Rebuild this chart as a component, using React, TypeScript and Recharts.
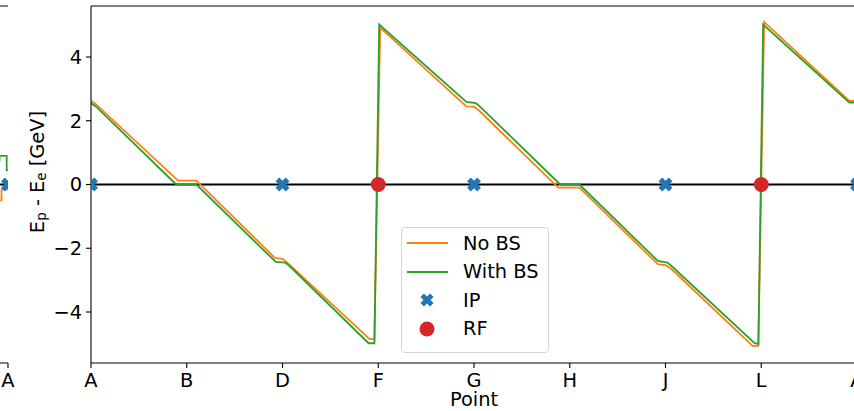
import { ComposedChart, Line, Scatter, XAxis, YAxis, ReferenceLine, Legend, Label } from "recharts";

const FONT = "DejaVu Sans, sans-serif";
const FS = 19.4;
const ORANGE = "#ff7f0e";
const GREEN = "#2ca02c";
const BLUE = "#1f77b4";
const RED = "#d62728";

// x axis: lattice points along the ring
const pointLabels = ["A", "B", "D", "F", "G", "H", "J", "L", "A"];
const pointTicks = [0, 1, 2, 3, 4, 5, 6, 7, 8];
const yTicks = [-4, -2, 0, 2, 4];
const yDomain = [-5.6, 5.6];

// E_p - E_e without beamstrahlung
const noBsX = [0, 0.05, 0.91, 1.1, 1.92, 2.0, 2.05, 2.91, 2.96, 3.02, 3.92, 4.0, 4.05, 4.88, 5.1, 5.92, 6.0, 6.05, 6.91, 6.97, 7.03, 7.92, 8.0];
const noBsY = [2.63, 2.52, 0.12, 0.12, -2.3, -2.33, -2.45, -4.85, -4.85, 4.92, 2.45, 2.44, 2.33, -0.1, -0.1, -2.5, -2.53, -2.62, -5.06, -5.06, 5.1, 2.62, 2.62];

// E_p - E_e with beamstrahlung
const withBsX = [0, 0.05, 0.89, 1.1, 1.93, 2.03, 2.07, 2.9, 2.96, 3.01, 3.92, 4.02, 4.06, 4.9, 5.1, 5.92, 6.02, 6.06, 6.93, 6.97, 7.02, 7.92, 8.0];
const withBsY = [2.55, 2.45, 0.0, 0.0, -2.43, -2.45, -2.55, -4.98, -4.98, 5.02, 2.59, 2.55, 2.45, 0.0, 0.0, -2.4, -2.45, -2.55, -4.98, -5.0, 5.02, 2.57, 2.57];

const ipX = [0, 2, 4, 6, 8];
const rfX = [3, 7];

// neighbouring panel (only its right edge is in view)
const leftNoBsX = [0.85, 0.935, 0.935, 1.0];
const leftNoBsY = [-0.5, -0.5, -0.15, -0.15];
const leftWithBsX = [0.85, 0.915, 0.915, 0.987, 0.987, 1.0];
const leftWithBsY = [0.75, 0.75, 0.9, 0.9, 0.45, 0.45];
const leftIpX = [1];

const toPoints = (xs: number[], ys: number[]) => xs.map((x, i) => ({ x, y: ys[i] }));
const onZero = (xs: number[]) => xs.map((x) => ({ x, y: 0 }));

const noBs = toPoints(noBsX, noBsY);
const withBs = toPoints(withBsX, withBsY);
const ip = onZero(ipX);
const rf = onZero(rfX);

const fmtY = (v: number) => (v < 0 ? `\u2212${-v}` : `${v}`);

// chart geometry
const H = 411;
const TOP = 6;
const BOTTOM = 8;
const XAXIS_H = 40;
const PLOT_H = H - TOP - BOTTOM - XAXIS_H;
const MAIN_W = 870;
const MAIN_RIGHT = 13;
const YAXIS_W = 91;
const LEFT_W = 120;
const LEFT_RIGHT = 20;

function xPath(cx: number, cy: number, a = 7.2, t = 2.6) {
  const pts = [[t, a], [t, t], [a, t], [a, -t], [t, -t], [t, -a], [-t, -a], [-t, -t], [-a, -t], [-a, t], [-t, t], [-t, a]];
  const c = Math.SQRT1_2;
  return pts.map(([px, py], i) => `${i ? "L" : "M"}${cx + (px - py) * c},${cy + (px + py) * c}`).join("") + "Z";
}

// matplotlib clips scatter markers to the axes: a nested svg viewport does the same
const makeXMarker = (clip: { x: number; y: number; width: number; height: number }) => (props: any) => {
  const { cx, cy } = props;
  if (cx == null || cy == null) return null;
  return (
    <svg x={clip.x} y={clip.y} width={clip.width} height={clip.height} overflow="hidden">
      <path d={xPath(cx - clip.x, cy - clip.y)} fill={BLUE} />
    </svg>
  );
};
const MainX = makeXMarker({ x: YAXIS_W, y: TOP, width: MAIN_W - MAIN_RIGHT - YAXIS_W, height: PLOT_H });
const LeftX = makeXMarker({ x: 0, y: TOP, width: LEFT_W - LEFT_RIGHT, height: PLOT_H });

function RfMarker(props: any) {
  const { cx, cy } = props;
  if (cx == null || cy == null) return null;
  return <circle cx={cx} cy={cy} r={7.5} fill={RED} />;
}

const legendRows = [
  { name: "No BS", kind: "line", color: ORANGE },
  { name: "With BS", kind: "line", color: GREEN },
  { name: "IP", kind: "x", color: BLUE },
  { name: "RF", kind: "dot", color: RED },
];

function LegendBox() {
  return (
    <div
      style={{
        width: 148,
        height: 126,
        boxSizing: "border-box",
        border: "1px solid #d6d6d6",
        borderRadius: 4,
        background: "rgba(255,255,255,0.8)",
        paddingTop: 1,
        fontFamily: FONT,
        fontSize: FS,
        color: "#000",
      }}
    >
      {legendRows.map((r) => (
        <div key={r.name} style={{ display: "flex", alignItems: "center", height: 28.5 }}>
          <svg width={61} height={28} style={{ flex: "none" }}>
            {r.kind === "line" && <line x1={5} x2={46} y1={14} y2={14} stroke={r.color} strokeWidth={1.8} />}
            {r.kind === "x" && <path d={xPath(25, 14, 6.8, 2.5)} fill={r.color} />}
            {r.kind === "dot" && <circle cx={25} cy={14} r={7.5} fill={r.color} />}
          </svg>
          <span style={{ whiteSpace: "nowrap" }}>{r.name}</span>
        </div>
      ))}
    </div>
  );
}

function YLabel(props: any) {
  const vb = props.viewBox || { x: 0, y: TOP, width: YAXIS_W, height: PLOT_H };
  const cx = vb.x + 37;
  const cy = vb.y + vb.height / 2 - 12.5;
  return (
    <text
      x={cx}
      y={cy}
      transform={`rotate(-90, ${cx}, ${cy})`}
      textAnchor="middle"
      dominantBaseline="central"
      fontSize={FS}
      fontFamily={FONT}
      fill="#000"
    >
      E<tspan dy={4} fontSize={13.5}>p</tspan>
      <tspan dy={-4}> - E</tspan>
      <tspan dy={4} fontSize={13.5}>e</tspan>
      <tspan dy={-4}> [GeV]</tspan>
    </text>
  );
}

function XLabel(props: any) {
  const vb = props.viewBox || { x: YAXIS_W, y: TOP + PLOT_H, width: 766, height: XAXIS_H };
  return (
    <text x={vb.x + vb.width / 2} y={vb.y + 43} textAnchor="middle" fontSize={FS} fontFamily={FONT} fill="#000">
      Point
    </text>
  );
}

const axisLine = { stroke: "#000", strokeWidth: 1.1 };
const tickStyle = { fill: "#000", fontSize: FS, fontFamily: FONT };

export default function App() {
  return (
    <div
      style={{
        position: "fixed",
        left: 0,
        top: 0,
        width: 854,
        height: H,
        overflow: "hidden",
        background: "#fff",
        fontFamily: FONT,
      }}
    >
      <div style={{ position: "absolute", left: -92, top: 0 }}>
        <ComposedChart width={LEFT_W} height={H} margin={{ top: TOP, right: LEFT_RIGHT, bottom: BOTTOM, left: 0 }}>
          <XAxis
            dataKey="x"
            type="number"
            domain={[0, 1]}
            ticks={[1]}
            interval={0}
            tickFormatter={() => "A"}
            allowDataOverflow
            height={XAXIS_H}
            tickSize={5}
            tickMargin={5}
            axisLine={axisLine}
            tickLine={axisLine}
            tick={tickStyle}
          />
          <YAxis
            orientation="right"
            dataKey="y"
            type="number"
            domain={yDomain}
            allowDataOverflow
            width={0}
            tick={false}
            tickLine={false}
            axisLine={axisLine}
          />
          <ReferenceLine y={yDomain[1]} stroke="#000" strokeWidth={1.1} />
          <ReferenceLine y={0} stroke="#000" strokeWidth={2} />
          <Scatter data={onZero(leftIpX)} dataKey="y" shape={LeftX} isAnimationActive={false} />
          <Line data={toPoints(leftNoBsX, leftNoBsY)} dataKey="y" stroke={ORANGE} strokeWidth={1.8} dot={false} isAnimationActive={false} />
          <Line data={toPoints(leftWithBsX, leftWithBsY)} dataKey="y" stroke={GREEN} strokeWidth={1.8} dot={false} isAnimationActive={false} />
        </ComposedChart>
      </div>

      <div style={{ position: "absolute", left: 0, top: 0 }}>
        <ComposedChart width={MAIN_W} height={H} margin={{ top: TOP, right: MAIN_RIGHT, bottom: BOTTOM, left: 0 }}>
          <XAxis
            dataKey="x"
            type="number"
            domain={[0, 8]}
            ticks={pointTicks}
            interval={0}
            tickFormatter={(v: number) => pointLabels[v]}
            allowDataOverflow
            height={XAXIS_H}
            tickSize={5}
            tickMargin={5}
            axisLine={axisLine}
            tickLine={axisLine}
            tick={tickStyle}
          >
            <Label content={XLabel} />
          </XAxis>
          <YAxis
            dataKey="y"
            type="number"
            domain={yDomain}
            ticks={yTicks}
            interval={0}
            tickFormatter={fmtY}
            allowDataOverflow
            width={YAXIS_W}
            tickSize={5}
            tickMargin={4}
            axisLine={axisLine}
            tickLine={axisLine}
            tick={tickStyle}
          >
            <Label content={YLabel} />
          </YAxis>
          <ReferenceLine y={yDomain[1]} stroke="#000" strokeWidth={1.1} />
          <ReferenceLine y={0} stroke="#000" strokeWidth={2} />
          <Scatter name="IP" data={ip} dataKey="y" shape={MainX} isAnimationActive={false} />
          <Scatter name="RF" data={rf} dataKey="y" shape={RfMarker} isAnimationActive={false} />
          <Line name="No BS" data={noBs} dataKey="y" stroke={ORANGE} strokeWidth={1.8} dot={false} isAnimationActive={false} />
          <Line name="With BS" data={withBs} dataKey="y" stroke={GREEN} strokeWidth={1.8} dot={false} isAnimationActive={false} />
          <Legend
            layout="horizontal"
            verticalAlign="middle"
            align="center"
            content={LegendBox}
            wrapperStyle={{ left: 401, top: 227, width: 148, height: 126 }}
          />
        </ComposedChart>
      </div>
    </div>
  );
}
